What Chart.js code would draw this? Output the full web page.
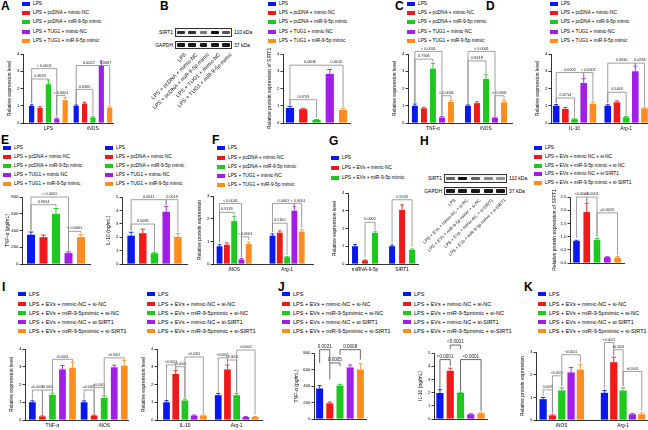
<!DOCTYPE html>
<html>
<head>
<meta charset="utf-8">
<script src="https://cdn.jsdelivr.net/npm/chart.js@4.4.0/dist/chart.umd.min.js"></script>
<style>
body { margin: 0; background: #fff; }
#fig { position: relative; width: 648px; height: 430px; overflow: hidden; font-family: "Liberation Sans", Arial, sans-serif; color: #000; }
</style>
</head>
<body>
<div id="fig"></div>
<script>
const FONT = '"Liberation Sans", Arial, sans-serif';
const colors = ['#0a18f0', '#f01a1a', '#1ec81e', '#a01ee6', '#ff8c1e'];

// legend texts
const legendPcdna = ['LPS', 'LPS + pcDNA + mimic-NC', 'LPS + pcDNA + miR-9-5p mimic', 'LPS + TUG1 + mimic-NC', 'LPS + TUG1 + miR-9-5p mimic'];
const legendEvs = ['LPS', 'LPS + EVs + mimic-NC', 'LPS + EVs + miR-9-5p mimic'];
const legendSirtH = ['LPS', 'LPS + EVs + mimic-NC + si-NC', 'LPS + EVs + miR-9-5p mimic + si-NC', 'LPS + EVs + mimic-NC + si-SIRT1', 'LPS + EVs + miR-9-5p mimic + si-SIRT1'];
const legendSirt = ['LPS', 'LPS + EVs + mimic-NC + si-NC', 'LPS + EVs + miR-9-5pmimic + si-NC', 'LPS + EVs + mimic-NC + si-SIRT1', 'LPS + EVs + miR-9-5pmimic + si-SIRT1'];

// brackets: [category, group a, group b, level, end of leg a, end of leg b, label]

// A
const aCategories = ['LPS', 'iNOS'];
const aValues = [[1.0, 1.0], [0.88, 1.13], [2.25, 0.32], [0.25, 3.32], [1.32, 0.9]];
const aErrors = [[0.06, 0.05], [0.07, 0.07], [0.24, 0.05], [0.05, 0.28], [0.16, 0.08]];
const aTicks = [0, 1, 2, 3, 4];
const aBrackets = [[0, 0, 3, 3.15, 1.15, 0.4, '< 0.0001'], [0, 0, 2, 2.55, 1.15, 2.52, '0.8533'], [0, 3, 4, 1.6, 0.4, 1.55, '< 0.0001'],
  [1, 0, 3, 3.33, 1.1, 3.33, '0.0022'], [1, 3, 4, 3.33, 3.33, 1.05, '0.0087'], [1, 0, 2, 1.95, 1.1, 0.45, '0.6365']];

// B
const bCategories = [''];
const bValues = [[0.87], [0.8], [0.18], [2.85], [0.75]];
const bErrors = [[0.1], [0.05], [0.02], [0.25], [0.08]];
const bTicks = [0, 1, 2, 3, 4];
const bBrackets = [[0, 0, 2, 1.35, 1.05, 0.3, '0.0743'], [0, 0, 3, 3.35, 1.05, 3.35, '0.0008'], [0, 3, 4, 3.35, 3.35, 0.9, '0.0016']];
const bBandSirt1 = [0.8, 0.8, 0.5, 0.95, 0.65];
const bBandGapdh = [0.9, 0.9, 0.9, 0.9, 0.9];

// C
const cCategories = ['TNF-α', 'iNOS'];
const cValues = [[1.0, 1.0], [0.85, 1.15], [3.15, 2.55], [0.32, 0.3], [1.22, 1.2]];
const cErrors = [[0.1, 0.05], [0.06, 0.08], [0.3, 0.25], [0.05, 0.04], [0.1, 0.1]];
const cTicks = [0, 1, 2, 3, 4];
const cBrackets = [[0, 0, 3, 4.15, 1.15, 0.45, '< 0.0001'], [0, 0, 2, 3.7, 1.15, 3.5, '0.7926'], [0, 3, 4, 1.58, 0.45, 1.38, '< 0.0001'],
  [1, 0, 3, 4.15, 1.1, 0.4, '< 0.0001'], [1, 0, 2, 3.6, 1.1, 2.85, '0.8418'], [1, 3, 4, 1.58, 0.4, 1.35, '< 0.0001']];

// D
const dCategories = ['IL-10', 'Arg-1'];
const dValues = [[1.0, 1.0], [0.82, 1.2], [0.22, 0.33], [2.32, 3.0], [1.12, 0.85]];
const dErrors = [[0.07, 0.06], [0.08, 0.08], [0.02, 0.05], [0.25, 0.3], [0.1, 0.07]];
const dTicks = [0, 1, 2, 3, 4];
const dBrackets = [[0, 0, 3, 2.93, 1.15, 2.62, '0.0002'], [0, 3, 4, 2.93, 2.62, 1.3, '< 0.0001'], [0, 0, 2, 1.45, 1.15, 0.3, '0.4714'],
  [1, 0, 3, 3.47, 1.15, 3.35, '0.0030'], [1, 3, 4, 3.47, 3.35, 1.0, '0.0284'], [1, 0, 2, 1.78, 1.15, 0.45, '0.5449']];

// E
const eTnfValues = [[350], [320], [600], [130], [320]];
const eTnfErrors = [[32], [25], [63], [15], [30]];
const eTnfTicks = [0, 200, 400, 600, 800];
const eTnfBrackets = [[0, 0, 3, 800, 400, 160, '< 0.0001'], [0, 0, 2, 708, 400, 680, '0.9654'], [0, 3, 4, 390, 160, 365, '< 0.0001']];
const eIlValues = [[2.12], [2.3], [0.8], [3.9], [2.02]];
const eIlErrors = [[0.25], [0.3], [0.07], [0.4], [0.25]];
const eIlTicks = [0, 1, 2, 3, 4, 5];
const eIlBrackets = [[0, 0, 3, 4.8, 2.5, 4.4, '0.0011'], [0, 3, 4, 4.8, 4.4, 2.35, '0.0019'], [0, 0, 2, 2.98, 2.5, 0.95, '0.0083']];

// F
const fCategories = ['iNOS', 'Arg-1'];
const fValues = [[0.78, 1.25], [0.85, 1.38], [1.9, 0.3], [0.2, 2.35], [0.88, 1.43]];
const fErrors = [[0.07, 0.08], [0.08, 0.08], [0.2, 0.03], [0.04, 0.2], [0.08, 0.08]];
const fTicks = [0, 1, 2, 3];
const fBrackets = [[0, 0, 3, 2.67, 0.95, 0.3, '< 0.0001'], [0, 0, 2, 2.28, 0.95, 2.15, '0.9139'], [0, 3, 4, 1.2, 0.3, 1.05, '< 0.0001'],
  [1, 0, 3, 2.67, 1.4, 2.6, '0.0001'], [1, 3, 4, 2.67, 2.6, 1.6, '< 0.0001'], [1, 0, 2, 1.8, 1.4, 0.4, '0.5160']];

// G
const gCategories = ['miRNA-9-5p', 'SIRT1'];
const gValues = [[1.0, 1.0], [0.2, 3.05], [1.75, 0.8]];
const gErrors = [[0.1, 0.07], [0.03, 0.28], [0.07, 0.05]];
const gTicks = [0, 1, 2, 3, 4];
const gBrackets = [[0, 1, 2, 2.35, 0.35, 1.9, '0.0002'], [1, 0, 2, 3.62, 1.15, 0.95, '0.5533']];

// H
const hValues = [[0.83], [1.93], [0.88], [0.22], [0.2]];
const hErrors = [[0.03], [0.33], [0.05], [0.02], [0.04]];
const hTicks = [0, 0.5, 1, 1.5, 2, 2.5];
const hBrackets = [[0, 0, 1, 2.5, 0.95, 2.3, '<0.0001'], [0, 1, 2, 2.5, 2.3, 1.0, '<0.0001'], [0, 2, 4, 1.9, 1.0, 0.3, '=0.0020']];
const hBandSirt1 = [0.6, 0.95, 0.6, 0.45, 0.4];
const hBandGapdh = [0.9, 0.9, 0.9, 0.9, 0.9];

// I
const iLeftCategories = ['TNF-α', 'iNOS'];
const iLeftValues = [[1.0, 1.0], [0.2, 0.25], [1.42, 1.25], [2.85, 2.97], [2.94, 3.06]];
const iLeftErrors = [[0.08, 0.08], [0.03, 0.03], [0.1, 0.12], [0.22, 0.12], [0.32, 0.3]];
const iLeftBrackets = [[0, 0, 1, 1.69, 1.15, 0.3, '=0.0023'], [0, 1, 2, 1.69, 0.3, 1.6, '<0.0001'], [0, 2, 4, 3.42, 1.6, 3.3, '<0.0001'],
  [1, 0, 1, 1.69, 1.15, 0.35, '=0.0005'], [1, 1, 2, 1.84, 0.35, 1.45, '<0.0001'], [1, 2, 4, 3.5, 1.45, 3.4, '<0.0001']];
const iRightCategories = ['IL-10', 'Arg-1'];
const iRightValues = [[1.0, 1.4], [2.6, 2.85], [1.1, 1.4], [0.25, 0.17], [0.25, 0.17]];
const iRightErrors = [[0.1, 0.1], [0.2, 0.25], [0.08, 0.1], [0.03, 0.03], [0.03, 0.03]];
const iRightBrackets = [[0, 0, 1, 3.1, 1.15, 2.85, '<0.0001'], [0, 1, 2, 3.0, 2.85, 1.25, '<0.0001'], [0, 2, 4, 3.55, 1.25, 0.35, '<0.0001'],
  [1, 0, 1, 3.5, 1.55, 3.15, '<0.0001'], [1, 1, 2, 3.38, 3.15, 1.55, '<0.0001'], [1, 2, 4, 3.94, 1.55, 0.3, '<0.0002']];
const iTicks = [0, 1, 2, 3, 4];

// J
const jTnfValues = [[370], [190], [405], [625], [600]];
const jTnfErrors = [[35], [15], [15], [30], [70]];
const jTnfTicks = [0, 200, 400, 600, 800];
const jTnfBrackets = [[0, 0, 1, 840, 680, 680, '0.0021'], [0, 1, 2, 680, 480, 640, '0.0005'], [0, 2, 4, 840, 780, 720, '0.0008']];
const jIlValues = [[1.97], [3.65], [1.97], [0.35], [0.42]];
const jIlErrors = [[0.25], [0.2], [0.05], [0.05], [0.05]];
const jIlTicks = [0, 1, 2, 3, 4, 5];
const jIlBrackets = [[0, 0, 1, 4.5, 2.3, 4.0, '<0.0001'], [0, 1, 2, 5.6, 5.3, 5.3, '<0.0001'], [0, 2, 4, 4.5, 2.1, 0.6, '<0.0001']];

// K
const kCategories = ['iNOS', 'Arg-1'];
const kValues = [[0.92, 1.2], [0.2, 2.55], [1.3, 1.3], [2.1, 0.25], [2.22, 0.25]];
const kErrors = [[0.07, 0.1], [0.03, 0.22], [0.12, 0.12], [0.22, 0.03], [0.22, 0.06]];
const kTicks = [0, 1, 2, 3];
const kBrackets = [[0, 0, 1, 1.33, 1.05, 0.3, '0.0009'], [0, 1, 2, 1.95, 0.3, 1.5, '<0.0001'], [0, 2, 4, 2.88, 1.5, 2.5, '<0.0001'],
  [1, 0, 1, 3.42, 1.35, 2.85, '<0.0001'], [1, 1, 2, 3.1, 2.85, 1.5, '<0.0001'], [1, 2, 4, 2.14, 1.5, 0.4, '<0.0001']];

const fig = document.getElementById('fig');

function addDiv(css, text) {
    const d = document.createElement('div');
    d.style.cssText = 'position:absolute;' + css;
    if (text !== undefined) d.textContent = text;
    fig.appendChild(d);
    return d;
}

function drawLetter(t, x, y) {
    addDiv(`left:${x}px;top:${y}px;font-size:12px;font-weight:bold;line-height:12px;`, t);
}

function drawLegend(labels, x, y, step, size) {
    labels.forEach((t, i) => {
        const cy = y + i * step;
        addDiv(`left:${x}px;top:${cy - 2}px;width:8px;height:4px;background:${colors[i]};`);
        addDiv(`left:${x + 11}px;top:${cy - 5}px;height:10px;line-height:10px;font-size:${size}px;white-space:nowrap;`, t);
    });
}

// western blot strip with rotated lane labels
function drawBlot(x, y, w, sirt, gapdh, lanes, labelSize) {
    const lane = w / sirt.length;
    const rows = [['SIRT1', '110 kDa', y, 9, sirt], ['GAPDH', '37 kDa', y + 13, 8, gapdh]];
    rows.forEach(([name, kda, top, h, levels]) => {
        addDiv(`left:${x}px;top:${top}px;width:${w}px;height:${h}px;border:0.8px solid #333;box-sizing:border-box;background:#f4f4f4;`);
        addDiv(`right:${648 - x + 2}px;top:${top}px;height:${h}px;line-height:${h}px;font-size:5px;`, name);
        addDiv(`left:${x + w + 2}px;top:${top}px;height:${h}px;line-height:${h}px;font-size:5px;white-space:nowrap;`, kda);
        levels.forEach((lv, i) => {
            addDiv(`left:${x + i * lane + lane * 0.15}px;top:${top + h * 0.3}px;width:${lane * 0.7}px;height:${h * 0.4}px;background:rgba(0,0,0,${lv});border-radius:1px;filter:blur(0.4px);`);
        });
    });
    // lane labels on a small canvas, rotated 45 degrees
    const cv = document.createElement('canvas');
    const left = x - 90, top = y + 22;
    cv.width = w + 100;
    cv.height = 100;
    cv.style.cssText = `position:absolute;left:${left}px;top:${top}px;`;
    fig.appendChild(cv);
    const ctx = cv.getContext('2d');
    ctx.fillStyle = '#111';
    ctx.font = `${labelSize}px ${FONT}`;
    ctx.textAlign = 'right';
    ctx.textBaseline = 'top';
    lanes.forEach((t, i) => {
        const cx = x + (i + 0.5) * lane + 3 - left;
        ctx.save();
        ctx.translate(cx, 2);
        ctx.rotate(-Math.PI / 4);
        ctx.fillText(t, 0, 0);
        ctx.restore();
    });
}

const errorBars = {
    id: 'errorBars',
    afterDatasetsDraw(chart) {
        const ctx = chart.ctx;
        const y = chart.scales.y;
        chart.data.datasets.forEach((ds, i) => {
            chart.getDatasetMeta(i).data.forEach((bar, j) => {
                const e = ds.errs[j];
                if (!e) return;
                const yt = y.getPixelForValue(ds.data[j] + e);
                const half = bar.width * 0.3;
                ctx.save();
                ctx.strokeStyle = ds.backgroundColor;
                ctx.lineWidth = 0.9;
                ctx.beginPath();
                ctx.moveTo(bar.x, bar.y);
                ctx.lineTo(bar.x, yt);
                ctx.moveTo(bar.x - half, yt);
                ctx.lineTo(bar.x + half, yt);
                ctx.stroke();
                ctx.restore();
            });
        });
    }
};

const brackets = {
    id: 'brackets',
    afterDraw(chart, args, opts) {
        const ctx = chart.ctx;
        const y = chart.scales.y;
        (opts.list || []).forEach(([cat, a, b, level, endA, endB, label]) => {
            const xa = chart.getDatasetMeta(a).data[cat].x;
            const xb = chart.getDatasetMeta(b).data[cat].x;
            const yl = y.getPixelForValue(level);
            ctx.save();
            ctx.strokeStyle = opts.color;
            ctx.lineWidth = 0.8;
            ctx.beginPath();
            ctx.moveTo(xa, y.getPixelForValue(endA));
            ctx.lineTo(xa, yl);
            ctx.lineTo(xb, yl);
            ctx.lineTo(xb, y.getPixelForValue(endB));
            ctx.stroke();
            ctx.fillStyle = '#222';
            ctx.font = `${opts.size}px ${FONT}`;
            ctx.textAlign = 'center';
            ctx.textBaseline = 'bottom';
            ctx.fillText(label, (xa + xb) / 2, yl - 1);
            ctx.restore();
        });
    }
};

function drawPanel(p) {
    const yW = p.yW || 16, padT = 20, padR = 4, xH = 11;
    const w = Math.round(p.x1 - p.x0 + yW + padR);
    const h = Math.round(p.y1 - p.y0 + padT + xH);
    const c = document.createElement('canvas');
    c.width = w;
    c.height = h;
    c.style.cssText = `position:absolute;left:${p.x0 - yW}px;top:${p.y0 - padT}px;width:${w}px;height:${h}px;`;
    fig.appendChild(c);
    const ticks = p.ticks;
    new Chart(c, {
        type: 'bar',
        data: {
            labels: p.cats,
            datasets: p.values.map((v, i) => ({
                data: v,
                errs: p.errors[i],
                backgroundColor: colors[i],
                categoryPercentage: p.cp,
                barPercentage: p.bp
            }))
        },
        options: {
            responsive: false,
            animation: false,
            devicePixelRatio: 1,
            layout: { padding: { top: padT, right: padR, left: 0, bottom: 0 } },
            plugins: {
                legend: { display: false },
                tooltip: { enabled: false },
                brackets: { list: p.brackets, size: p.bSize || 3.8, color: p.bColor || '#888' }
            },
            scales: {
                x: {
                    offset: true,
                    grid: { display: false, drawTicks: true, tickLength: 1.5 },
                    border: { display: true, color: '#000', width: 0.8 },
                    ticks: { font: { size: 4.8, family: FONT }, color: '#000', padding: 1, maxRotation: 0, autoSkip: false },
                    afterBuildTicks: s => {
                        if (p.xStart !== undefined) {
                            s._startValue = p.xStart;
                            s._valueRange = p.xRange;
                        }
                    },
                    afterFit: s => { s.height = xH; }
                },
                y: {
                    min: ticks[0],
                    max: ticks[ticks.length - 1],
                    ticks: {
                        stepSize: ticks[1] - ticks[0],
                        font: { size: 4.3, family: FONT },
                        color: '#000',
                        padding: 1,
                        callback: v => p.decimals ? v.toFixed(p.decimals) : v
                    },
                    grid: { display: true, drawOnChartArea: false, drawTicks: true, tickLength: 2.5, color: '#000', lineWidth: 0.8 },
                    border: { display: true, color: '#000', width: 0.8 },
                    title: { display: true, text: p.title, font: { size: 5, family: FONT }, color: '#000', padding: { top: 0, bottom: 1 } },
                    afterFit: s => { s.width = yW; }
                }
            }
        },
        plugins: [errorBars, brackets]
    });
}

// panel letters
drawLetter('A', 1, 0); drawLetter('B', 160, 0); drawLetter('C', 395, 0); drawLetter('D', 486, 0);
drawLetter('E', 1, 134); drawLetter('F', 212, 134); drawLetter('G', 329, 135); drawLetter('H', 420, 135);
drawLetter('I', 2, 281); drawLetter('J', 278, 281); drawLetter('K', 524, 281);

// legends
drawLegend(legendPcdna, 22, 4, 9.2, 4.8);
drawLegend(legendPcdna, 268, 4, 9.2, 4.8);
drawLegend(legendPcdna, 407, 4, 9.2, 4.8);
drawLegend(legendPcdna, 550, 4, 9.2, 4.8);
drawLegend(legendPcdna, 3, 148.3, 9, 4.8);
drawLegend(legendPcdna, 105, 148.3, 9, 4.8);
drawLegend(legendPcdna, 217, 148.3, 9.2, 4.8);
drawLegend(legendEvs, 331, 158.3, 9.7, 4.8);
drawLegend(legendSirtH, 534, 147.7, 8.9, 4.8);
drawLegend(legendSirt, 18, 294.3, 9.2, 5.5);
drawLegend(legendSirt, 147, 294.3, 9.2, 5.5);
drawLegend(legendSirt, 282, 294.3, 9.2, 5.5);
drawLegend(legendSirt, 403, 294.3, 9.2, 5.5);
drawLegend(legendSirt, 538, 294.3, 9.2, 5.5);

// blots
drawBlot(175, 28, 57, bBandSirt1, bBandGapdh, legendPcdna, 5.4);
drawBlot(444, 174, 63, hBandSirt1, hBandGapdh, legendSirtH, 4.4);

const relExpr = 'Relative expression level';
const relProt = 'Relative protein expression';
const relSirt = 'Relative protein expression of SIRT1';

drawPanel({ cats: aCategories, values: aValues, errors: aErrors, brackets: aBrackets, ticks: aTicks, title: relExpr,
    x0: 23, x1: 113, y0: 54, y1: 123, xStart: -0.57, xRange: 2.02, cp: 0.94, bp: 0.62 });
drawPanel({ cats: bCategories, values: bValues, errors: bErrors, brackets: bBrackets, ticks: bTicks, title: relSirt,
    x0: 283, x1: 350, y0: 54, y1: 123, cp: 0.99, bp: 0.62 });
drawPanel({ cats: cCategories, values: cValues, errors: cErrors, brackets: cBrackets, ticks: cTicks, title: relExpr,
    x0: 408, x1: 512, y0: 54, y1: 123, xStart: -0.47, xRange: 1.96, cp: 0.85, bp: 0.66 });
drawPanel({ cats: dCategories, values: dValues, errors: dErrors, brackets: dBrackets, ticks: dTicks, title: relExpr,
    x0: 551, x1: 648, y0: 54, y1: 123, xStart: -0.456, xRange: 1.88, cp: 0.89, bp: 0.72 });
drawPanel({ cats: [''], values: eTnfValues, errors: eTnfErrors, brackets: eTnfBrackets, ticks: eTnfTicks, title: 'TNF-α (pg/mL)', yW: 17,
    x0: 22, x1: 90, y0: 197, y1: 264, cp: 0.92, bp: 0.64 });
drawPanel({ cats: [''], values: eIlValues, errors: eIlErrors, brackets: eIlBrackets, ticks: eIlTicks, title: 'IL-10 (ng/mL)',
    x0: 122, x1: 187, y0: 197, y1: 264, cp: 0.9, bp: 0.64 });
drawPanel({ cats: fCategories, values: fValues, errors: fErrors, brackets: fBrackets, ticks: fTicks, title: relProt,
    x0: 213, x1: 313, y0: 196, y1: 264, xStart: -0.4, xRange: 1.89, cp: 0.69, bp: 0.8 });
drawPanel({ cats: gCategories, values: gValues, errors: gErrors, brackets: gBrackets, ticks: gTicks, title: relExpr,
    x0: 348, x1: 418, y0: 193, y1: 264, xStart: -0.46, xRange: 1.89, cp: 0.81, bp: 0.6 });
drawPanel({ cats: [''], values: hValues, errors: hErrors, brackets: hBrackets, ticks: hTicks, title: relSirt, decimals: 1, yW: 18,
    x0: 570, x1: 624, y0: 197, y1: 263, cp: 0.95, bp: 0.65 });
drawPanel({ cats: iLeftCategories, values: iLeftValues, errors: iLeftErrors, brackets: iLeftBrackets, ticks: iTicks, title: relExpr, bSize: 3.3,
    x0: 25, x1: 128, y0: 349, y1: 420, xStart: -0.53, xRange: 1.99, cp: 0.97, bp: 0.67 });
drawPanel({ cats: iRightCategories, values: iRightValues, errors: iRightErrors, brackets: iRightBrackets, ticks: iTicks, title: relExpr, bSize: 3.3,
    x0: 157, x1: 262, y0: 349, y1: 420, xStart: -0.54, xRange: 2.03, cp: 0.89, bp: 0.73 });
drawPanel({ cats: [''], values: jTnfValues, errors: jTnfErrors, brackets: jTnfBrackets, ticks: jTnfTicks, title: 'TNF-α (pg/mL)', yW: 20,
    bSize: 4.6, bColor: '#444', x0: 314, x1: 366, y0: 353, y1: 419, cp: 0.98, bp: 0.69 });
drawPanel({ cats: [''], values: jIlValues, errors: jIlErrors, brackets: jIlBrackets, ticks: jIlTicks, title: 'IL-10 (ng/mL)',
    bSize: 4.6, bColor: '#444', x0: 434, x1: 487, y0: 353, y1: 419, cp: 0.97, bp: 0.7 });
drawPanel({ cats: kCategories, values: kValues, errors: kErrors, brackets: kBrackets, ticks: kTicks, title: relProt, bSize: 3.3,
    x0: 536, x1: 647, y0: 352, y1: 420, xStart: -0.42, xRange: 1.81, cp: 0.76, bp: 0.78 });
</script>
</body>
</html>
